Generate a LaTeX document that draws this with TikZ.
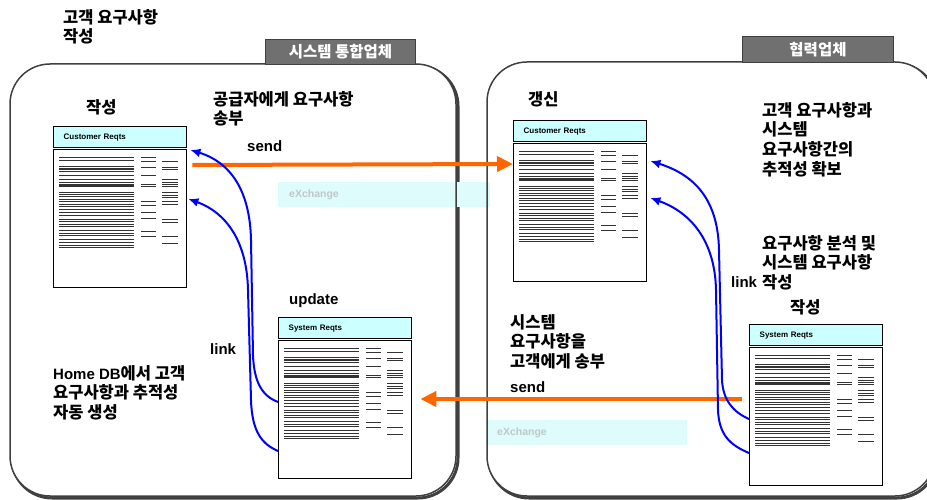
\documentclass[tikz,border=0pt]{standalone}
\usepackage{fontspec}
\setmainfont{Liberation Sans}
\newfontfamily\kr{Noto Sans CJK KR}
\usetikzlibrary{arrows.meta}

\definecolor{sendorange}{HTML}{FF6600}
\definecolor{headcyan}{HTML}{CCFFFF}
\definecolor{xcyan}{HTML}{DFFCFC}
\definecolor{xgray}{HTML}{BFC8C8}
\definecolor{tabgray}{HTML}{707070}

\tikzset{
  panel/.style={draw=black!75, line width=1.5pt, rounded corners=40pt},
  panelshadow/.style={draw=black!75, line width=3pt, rounded corners=40pt},
  tab/.style={draw=black!75, fill=tabgray, text=white, line width=1pt, anchor=north west, inner sep=0pt, font=\kr\bfseries\fontsize{15.5}{17}\selectfont},
  dochead/.style={draw, line width=1.4pt, fill=headcyan, anchor=north west, minimum height=21pt, text width=113pt, inner xsep=10pt, inner ysep=0pt, align=left, font=\bfseries\fontsize{8}{9}\selectfont},
  docbody/.style={draw, line width=1.4pt, anchor=north west, minimum width=133pt, minimum height=138pt, inner sep=0pt},
  docline/.style={black!80, line width=0.8pt},
  note/.style={anchor=north west, inner sep=0pt, align=left, font=\kr\bfseries\fontsize{16.5}{19.7}\selectfont},
  word/.style={anchor=west, inner sep=0pt, font=\bfseries\fontsize{15}{18}\selectfont},
  kword/.style={word, font=\kr\bfseries\fontsize{16.5}{18}\selectfont},
  linkarrow/.style={blue, line width=2pt, -{Latex[length=10pt,width=9pt]}},
  sendarrow/.style={sendorange, line width=4pt, -{Triangle[length=16pt,width=15pt]}},
  xbox/.style={fill=xcyan, anchor=north west, inner xsep=11pt, inner ysep=0pt, minimum height=25pt, align=left, text=xgray, font=\bfseries\fontsize{10.5}{12}\selectfont}
}

\newcommand{\reqdoc}[4]{%
  \node[dochead] (#1h) at (#2,#3) {#4};
  \node[docbody] (#1) at (#2,#3+23) {};
  \foreach \o/\w in {8.3/.8,11/.8,17.7/.8,20/1.1,22.7/.8,26/.8,30.7/.8,33.3/1.1,35.3/.8,37/1.1,43.3/.8,45.3/1.1,47.5/.8,50/.8,52.3/1.1,55/.8,57.5/.8,60/.8,63/.8,66/.8,70/.8,72.7/.8,75/.8,77.7/.8,81.7/.8,84/.8,86.7/.8,90.7/.8,93.3/.8,96/.8,98.3/.8}
    \draw[docline, line width=\w pt] ([shift={(6,\o)}]#1.north west) -- ++(75,0);
  \foreach \o in {8.7,12,18,26.3,35.3,37.7,52,56.3,63.7,69.7,82,87}
    \draw[docline] ([shift={(88,\o)}]#1.north west) -- ++(15,0);
  \foreach \o in {12,18,20.3,30.3,33,35.3,37.7,43.7,46,48.7,52,55.3,70.3,73.7,87,94.7}
    \draw[docline] ([shift={(109,\o)}]#1.north west) -- ++(16,0);
}

\begin{document}
\begin{tikzpicture}[x=1pt,y=-1pt]
    \useasboundingbox (0,0) rectangle (927,500);
    \draw[panelshadow] (12,66) rectangle (458,498);
    \draw[panelshadow] (489,64) rectangle (937,498);
    \fill[white, rounded corners=40pt] (10,64) rectangle (456,496);
    \fill[white, rounded corners=40pt] (487,62) rectangle (935,496);
    \node[xbox, text width=190pt] (xtop) at (278,182) {eXchange};
    \node[xbox, text width=179pt] (xbot) at (486,420) {eXchange};
    \draw[panel] (10,64) rectangle (456,496);
    \draw[panel] (487,62) rectangle (935,496);
    \node[tab, minimum width=150pt, minimum height=25pt] (tabsi) at (265,39) {시스템 통합업체};
    \node[tab, minimum width=151pt, minimum height=26pt] (tabpa) at (742,36) {협력업체};

    \reqdoc{cr1}{53}{126}{Customer Reqts}
    \reqdoc{cr2}{513}{120}{Customer Reqts}
    \reqdoc{sr1}{278}{317}{System Reqts}
    \reqdoc{sr2}{749}{324}{System Reqts}

    \node[note] (title) at (63,9) {고객 요구사항\\작성};
    \node[note] (supply) at (213,91) {공급자에게 요구사항\\송부};
    \node[note] (trace) at (762,102) {고객 요구사항과\\시스템\\요구사항간의\\추적성 확보};
    \node[note] (analyse) at (762,235) {요구사항 분석 및\\시스템 요구사항\\작성};
    \node[note] (homedb) at (53,365) {{\rmfamily\fontsize{15}{19.7}\selectfont Home DB}에서 고객\\요구사항과 추적성\\자동 생성};
    \node[note] (back) at (510,314) {시스템\\요구사항을\\고객에게 송부};
    \node[kword] (make1) at (86,107) {작성};
    \node[kword] (renew) at (528,99) {갱신};
    \node[kword] (make2) at (790,307) {작성};
    \node[word] (send1) at (247,146) {send};
    \node[word] (send2) at (510,387) {send};
    \node[word] (upd) at (289,301) {update};
    \node[word] (link1) at (210,349) {link};
    \node[word] (link2) at (731,282) {link};

    \draw[sendarrow] ([shift={(5,16)}]cr1.north east) -- ([shift={(0,21)}]cr2.north west);
    \draw[sendarrow] ([shift={(-7,52)}]sr2.north west) -- ([shift={(8,59)}]sr1.north east);

    \draw[linkarrow] ([shift={(0,62)}]sr1.north west) .. controls (262,396) and (254,382) .. (253,355) -- (251,240) .. controls (250,190) and (230,162) .. ([shift={(3,1)}]cr1.north east);
    \draw[linkarrow] ([shift={(0,111)}]sr1.north west) .. controls (262,444) and (252,432) .. (251,400) -- (248,290) .. controls (247,240) and (225,212) .. ([shift={(1,50)}]cr1.north east);
    \draw[linkarrow] ([shift={(0,72)}]sr2.north west) .. controls (733,412) and (723,400) .. (722,380) -- (719,250) .. controls (718,200) and (695,175) .. ([shift={(3,18)}]cr2.north east);
    \draw[linkarrow] ([shift={(0,106)}]sr2.north west) .. controls (730,445) and (719,435) .. (718,410) -- (716,290) .. controls (715,240) and (690,212) .. ([shift={(3,55)}]cr2.north east);
\end{tikzpicture}
\end{document}
